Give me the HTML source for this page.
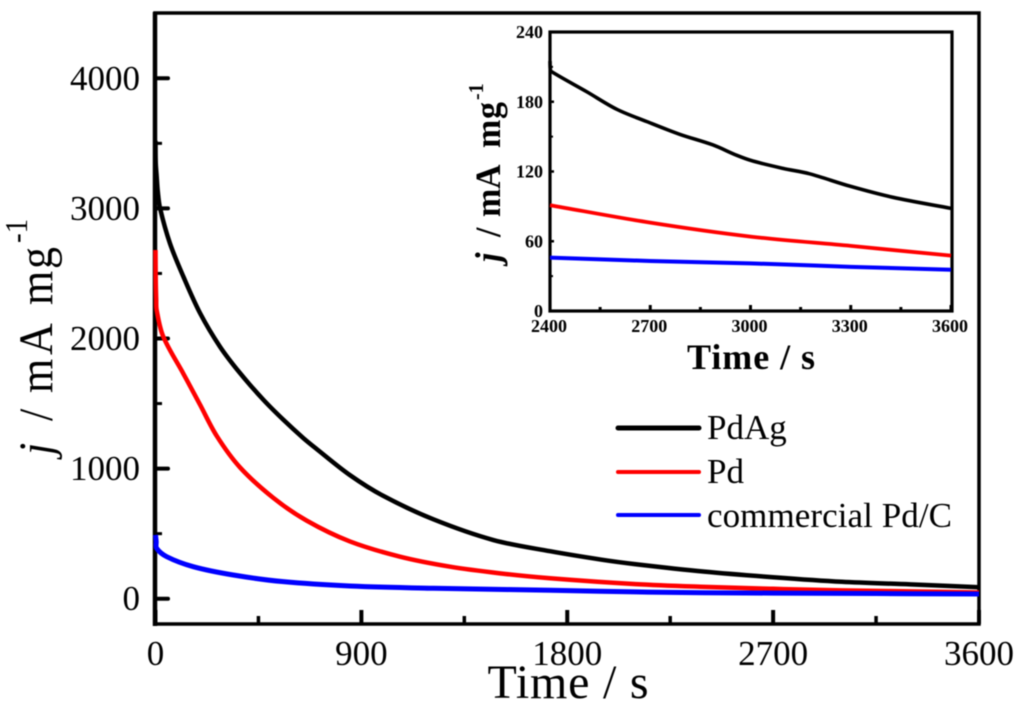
<!DOCTYPE html>
<html>
<head>
<meta charset="utf-8">
<style>
html,body{margin:0;padding:0;background:#fff;width:1024px;height:709px;overflow:hidden}
svg{display:block;filter:blur(0.55px)}
text{font-family:"Liberation Serif",serif;fill:#000}
</style>
</head>
<body>
<svg id="chart" xmlns="http://www.w3.org/2000/svg" width="1024" height="709" viewBox="0 0 1024 709">
  <rect width="1024" height="709" fill="#fff"/>
  <g id="main-plot"></g>
  <g id="inset-plot"></g>
  <text x="568" y="698" font-size="48" text-anchor="middle" textLength="161">Time / s</text>
  <text transform="translate(52,458) rotate(-90) scale(1,1.08)" font-size="44"><tspan font-style="italic" x="3">j</tspan><tspan x="37">/</tspan><tspan x="65">m</tspan><tspan x="103">A</tspan><tspan x="153">m</tspan><tspan x="189">g</tspan><tspan x="215" font-size="29" dy="-23">-1</tspan></text>
  <text x="751" y="369" font-size="36" font-weight="bold" text-anchor="middle" textLength="128">Time / s</text>
  <text transform="translate(500,265) rotate(-90) scale(1,1.05)" font-size="34" font-weight="bold"><tspan font-style="italic" x="3">j</tspan><tspan x="28">/</tspan><tspan x="48">m</tspan><tspan x="76">A</tspan><tspan x="117">m</tspan><tspan x="146">g</tspan><tspan x="165" font-size="20" dy="-16">-1</tspan></text>
  <g>
    <line x1="618" x2="699" y1="428" y2="428" stroke="#000" stroke-width="5" stroke-linecap="round"/>
    <text x="707" y="439" font-size="35">PdAg</text>
    <line x1="618" x2="699" y1="472" y2="472" stroke="#f00" stroke-width="4" stroke-linecap="round"/>
    <text x="707" y="483" font-size="35">Pd</text>
    <line x1="618" x2="699" y1="515" y2="515" stroke="#00f" stroke-width="4" stroke-linecap="round"/>
    <text x="707" y="527" font-size="35" textLength="245">commercial Pd/C</text>
  </g>
</svg>
<script>
// main plot data
var mainPdAgTime = [0,1,5,10,20,63,122,195,282,369,471,559,646,705,850,996,1215,1477,1725,1950,2100,2400,2700,3000,3300,3600];
var mainPdAgValues = [3520,3350,3250,3130,3001,2732,2475,2194,1937,1735,1530,1375,1235,1150,950,790,610,451,365,300,265,208,165,130,110,88];
var mainPdTime = [0,1,3,5,34,122,195,268,369,515,661,850,1069,1288,1506,1725,2100,2400,2700,3000,3300,3600];
var mainPdValues = [2680,2450,2300,2219,2014,1729,1490,1250,1010,775,600,440,323,246,195,157,112,91,76,64,56,48];
var mainPdCTime = [0,3,5,49,165,340,559,850,1215,1725,2100,2400,2700,3000,3300,3600];
var mainPdCValues = [490,440,387,323,246,182,131,98,80,65,52,46,43,41,38,36];
var mainXTicks = [0,900,1800,2700,3600];
var mainXMinorTicks = [450,1350,2250,3150];
var mainYTicks = [0,1000,2000,3000,4000];
var mainYMinorTicks = [500,1500,2500,3500];
// inset data
var insetPdAgTime = [2400,2401,2404,2510,2600,2689,2788,2888,2958,3007,3097,3177,3296,3426,3600];
var insetPdAgValues = [215,208,206,188.6,173.5,163,152,142.8,134,129,122.7,118,107.5,97.8,88.3];
var insetPdTime = [2400,2700,3000,3300,3600];
var insetPdValues = [91,76,64,56,47.6];
var insetPdCTime = [2400,2700,3000,3300,3600];
var insetPdCValues = [45.9,43,41,38,35.5];
var insetXTicks = [2400,2700,3000,3300,3600];
var insetXMinorTicks = [2550,2850,3150,3450];
var insetYTicks = [0,60,120,180,240];
var insetYMinorTicks = [30,90,150,210];

var NS = 'http://www.w3.org/2000/svg';
function make(parent, tag, props, txt) {
  var el = document.createElementNS(NS, tag);
  for (var k in props) { el.setAttribute(k, props[k]); }
  if (txt !== undefined) { el.textContent = txt; }
  parent.appendChild(el);
  return el;
}
// smooth curve: tangent at each point follows its neighbours, handle length follows the segment
function pathFrom(times, values, sx, sy) {
  var p = [];
  for (var i = 0; i < times.length; i++) { p.push([sx(times[i]), sy(values[i])]); }
  function tangent(i) {
    var a = p[Math.max(i - 1, 0)], b = p[Math.min(i + 1, p.length - 1)];
    var dx = b[0] - a[0], dy = b[1] - a[1], n = Math.sqrt(dx * dx + dy * dy) || 1;
    return [dx / n, dy / n];
  }
  var d = 'M' + p[0][0].toFixed(2) + ' ' + p[0][1].toFixed(2);
  for (var j = 0; j < p.length - 1; j++) {
    var s = Math.sqrt(Math.pow(p[j + 1][0] - p[j][0], 2) + Math.pow(p[j + 1][1] - p[j][1], 2)) / 3;
    var t0 = tangent(j), t1 = tangent(j + 1);
    d += 'C' + (p[j][0] + t0[0] * s).toFixed(2) + ' ' + (p[j][1] + t0[1] * s).toFixed(2) + ' ' +
         (p[j + 1][0] - t1[0] * s).toFixed(2) + ' ' + (p[j + 1][1] - t1[1] * s).toFixed(2) + ' ' +
         p[j + 1][0].toFixed(2) + ' ' + p[j + 1][1].toFixed(2);
  }
  return d;
}

// main axes
function mx(t) { return 155.5 + t * (823.5 / 3600); }
function my(j) { return 598.7 - j * 0.1301; }
// inset axes
function ix(t) { return 550 + (t - 2400) * (401 / 1200); }
function iy(j) { return 311 - j * (279 / 240); }

var mainG = document.getElementById('main-plot');
var insetG = document.getElementById('inset-plot');
var el;

// main frame
el = make(mainG, 'path', {d:'M155 13H979V624H155Z', fill:'none', stroke:'#000', 'stroke-width':'3.5'});


el = make(mainG, 'line', {x1:155, x2:155, y1:12, y2:626, stroke:'#000', 'stroke-width':'4.5'});



mainYTicks.forEach(function (v) {
  var t = make(mainG, 'line', {x1:155, x2:168, y1:my(v), y2:my(v), stroke:'#000', 'stroke-width':'4', 'stroke-linecap':'round'});
  
  
  var l = make(mainG, 'text', {x:140, y:my(v) + 11.5, 'font-size':35, 'text-anchor':'end'}, String(v));
  
  
});
mainYMinorTicks.forEach(function (v) {
  var t = make(mainG, 'line', {x1:155, x2:162, y1:my(v), y2:my(v), stroke:'#000', 'stroke-width':'3'});
  
  
});
mainXTicks.forEach(function (v) {
  var t = make(mainG, 'line', {x1:mx(v), x2:mx(v), y1:624, y2:610, stroke:'#000', 'stroke-width':'4'});
  
  
  var l = make(mainG, 'text', {x:mx(v), y:665, 'font-size':35, 'text-anchor':'middle'}, String(v));
  
  
});
mainXMinorTicks.forEach(function (v) {
  var t = make(mainG, 'line', {x1:mx(v), x2:mx(v), y1:624, y2:616, stroke:'#000', 'stroke-width':'3.5'});
  
  
});

// main series
el = make(mainG, 'path', {d:pathFrom(mainPdAgTime, mainPdAgValues, mx, my), fill:'none', stroke:'#000', 'stroke-width':'4.5', 'stroke-linejoin':'round'});


el = make(mainG, 'path', {d:pathFrom(mainPdTime, mainPdValues, mx, my), fill:'none', stroke:'#f00', 'stroke-width':'4.5', 'stroke-linejoin':'round'});


el = make(mainG, 'path', {d:pathFrom(mainPdCTime, mainPdCValues, mx, my), fill:'none', stroke:'#00f', 'stroke-width':'5', 'stroke-linejoin':'round'});



// inset frame
el = make(insetG, 'rect', {x:550, y:32, width:402, height:279, fill:'none', stroke:'#000', 'stroke-width':'3.2'});



insetYTicks.forEach(function (v) {
  var t = make(insetG, 'line', {x1:550, x2:554, y1:iy(v), y2:iy(v), stroke:'#000', 'stroke-width':'2.5'});
  
  
  var l = make(insetG, 'text', {x:543, y:iy(v) + 6, 'font-size':18, 'font-weight':'bold', 'text-anchor':'end'}, String(v));
  
  
});
insetYMinorTicks.forEach(function (v) {
  var t = make(insetG, 'line', {x1:550, x2:553, y1:iy(v), y2:iy(v), stroke:'#000', 'stroke-width':'2'});
  
  
});
insetXTicks.forEach(function (v) {
  var t = make(insetG, 'line', {x1:ix(v), x2:ix(v), y1:311, y2:305, stroke:'#000', 'stroke-width':'3'});
  
  
  var l = make(insetG, 'text', {x:ix(v) - 1, y:332, 'font-size':18, 'font-weight':'bold', 'text-anchor':'middle'}, String(v));
  
  
});
insetXMinorTicks.forEach(function (v) {
  var t = make(insetG, 'line', {x1:ix(v), x2:ix(v), y1:311, y2:307, stroke:'#000', 'stroke-width':'3'});
  
  
});

// inset series
el = make(insetG, 'path', {d:pathFrom(insetPdAgTime, insetPdAgValues, ix, iy), fill:'none', stroke:'#000', 'stroke-width':'3.6', 'stroke-linejoin':'round'});


el = make(insetG, 'path', {d:pathFrom(insetPdTime, insetPdValues, ix, iy), fill:'none', stroke:'#f00', 'stroke-width':'3.8', 'stroke-linejoin':'round'});


el = make(insetG, 'path', {d:pathFrom(insetPdCTime, insetPdCValues, ix, iy), fill:'none', stroke:'#00f', 'stroke-width':'4', 'stroke-linejoin':'round'});


</script>
</body>
</html>
